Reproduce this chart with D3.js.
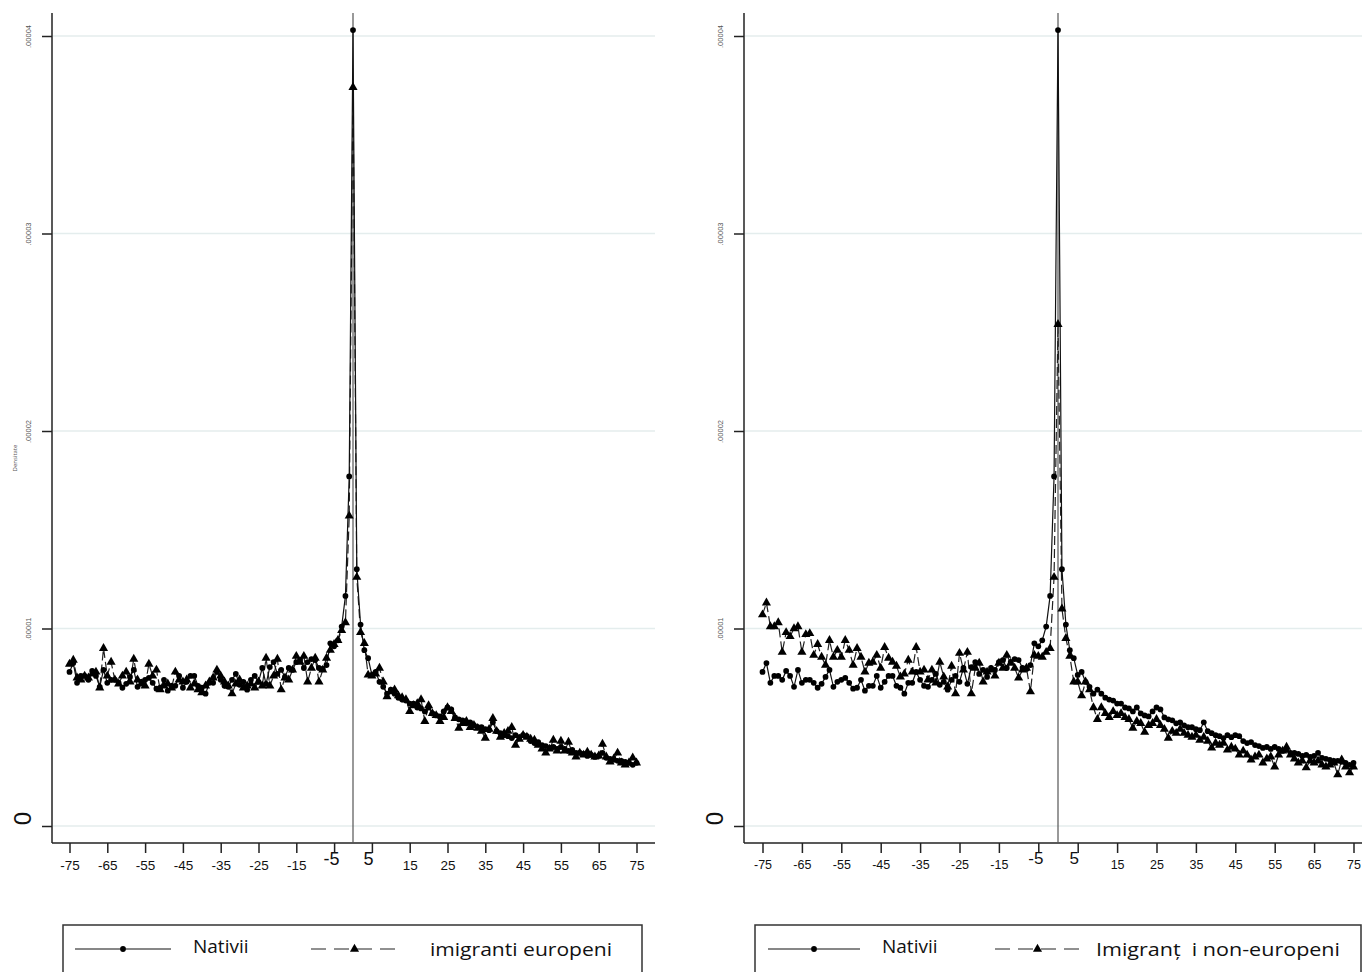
<!DOCTYPE html>
<html><head><meta charset="utf-8">
<script src="https://cdn.jsdelivr.net/npm/d3@7/dist/d3.min.js"></script>
<style>
html,body{margin:0;padding:0;background:#fff;}
svg{display:block;font-family:"Open Sans","Noto Sans",sans-serif;}
</style></head><body>
<svg id="chart" width="1364" height="972"></svg>
<script>
// x categories: distance (integer positions -75..75)
const positions = d3.range(-75, 76);
// values in units of 1e-6 (density)
const nativii = [
7.8, 8.25, 7.25, 7.6, 7.6, 7.4, 7.85, 7.6, 7.05, 7.9,
7.25, 7.4, 7.4, 7.25, 7.0, 7.2, 7.55, 7.9, 7.05, 7.3,
7.4, 7.5, 7.25, 6.95, 7.0, 7.4, 6.85, 7.1, 7.1, 7.6,
7.0, 7.3, 7.6, 7.6, 7.1, 7.0, 6.7, 7.25, 7.25, 7.8,
7.4, 7.1, 7.05, 7.4, 7.7, 7.15, 7.3, 6.9, 7.4, 7.6,
7.3, 8.0, 7.2, 8.05, 8.3, 7.7, 7.9, 7.55, 8.0, 7.9,
8.3, 8.4, 8.0, 8.3, 8.45, 8.4, 8.0, 7.95, 8.15, 9.25,
9.1, 9.4, 10.1, 11.65, 17.7, 40.3, 13.0, 10.2, 8.9, 8.5,
7.65, 7.8, 7.3, 7.05, 6.7, 6.9, 6.7, 6.5, 6.4, 6.35,
6.2, 6.2, 6.0, 5.95, 5.8, 6.0, 5.7, 5.6, 5.55, 5.8,
6.0, 5.9, 5.5, 5.4, 5.35, 5.2, 5.25, 5.1, 5.0, 5.0,
4.9, 4.85, 5.25, 4.8, 4.7, 4.6, 4.55, 4.45, 4.6, 4.5,
4.6, 4.55, 4.3, 4.2, 4.25, 4.1, 4.05, 3.95, 4.0, 3.9,
4.0, 3.9, 3.8, 3.85, 3.7, 3.7, 3.65, 3.55, 3.6, 3.5,
3.55, 3.7, 3.45, 3.4, 3.35, 3.3, 3.3, 3.25, 3.2, 3.1,
3.2];
const imigrantiEuropeni = [
8.2, 8.4, 7.5, 7.4, 7.6, 7.5, 7.7, 7.8, 7.0, 9.0,
7.6, 8.3, 7.4, 7.2, 7.6, 7.8, 7.3, 8.45, 7.4, 7.2,
7.1, 8.2, 7.6, 7.9, 6.9, 7.1, 7.2, 7.0, 7.8, 7.4,
7.3, 7.4, 7.0, 7.2, 6.9, 6.75, 7.1, 7.3, 7.5, 7.9,
7.6, 7.3, 7.1, 6.7, 7.2, 7.4, 7.0, 7.1, 7.2, 7.0,
7.3, 7.1, 8.5, 7.1, 7.6, 8.45, 6.9, 7.5, 7.4, 7.9,
8.6, 8.3, 8.6, 7.3, 8.0, 8.5, 7.3, 7.9, 8.5, 8.9,
9.2, 9.4, 9.9, 10.3, 15.7, 37.4, 12.6, 9.8, 9.25, 7.65,
7.6, 7.7, 8.0, 7.3, 6.55, 6.8, 6.9, 6.6, 6.5, 6.4,
5.8, 6.1, 6.2, 6.4, 5.3, 6.1, 5.7, 5.6, 5.3, 5.5,
6.0, 5.8, 5.45, 4.95, 5.2, 5.3, 5.0, 5.1, 4.95, 4.8,
4.45, 4.9, 5.45, 4.8, 4.5, 4.7, 4.8, 5.0, 4.1, 4.4,
4.6, 4.5, 4.4, 4.35, 4.1, 3.9, 3.7, 3.9, 4.35, 3.8,
4.3, 3.8, 4.25, 3.7, 3.5, 3.7, 3.6, 3.75, 3.6, 3.5,
3.55, 4.15, 3.5, 3.25, 3.4, 3.7, 3.2, 3.1, 3.2, 3.45,
3.2];
const imigrantiNonEuropeni = [
10.7, 11.3, 10.1, 10.1, 10.3, 8.8, 9.8, 9.6, 10.0, 10.1,
8.8, 9.7, 9.75, 8.65, 9.2, 8.55, 8.15, 9.4, 8.55, 8.9,
8.55, 9.4, 8.9, 8.15, 9.0, 8.55, 7.8, 8.25, 8.3, 8.65,
8.0, 9.05, 8.5, 8.3, 8.1, 7.55, 7.7, 8.4, 7.8, 9.05,
7.8, 7.9, 7.4, 7.9, 7.25, 8.3, 7.55, 7.05, 8.1, 6.7,
8.75, 7.9, 8.8, 6.7, 8.0, 8.25, 7.3, 7.8, 7.9, 7.6,
8.25, 8.0, 8.65, 8.25, 8.0, 7.5, 7.9, 8.0, 6.8, 8.65,
8.6, 8.55, 8.8, 9.0, 12.6, 25.4, 11.0, 9.5, 8.6, 7.3,
7.3, 6.6, 7.3, 6.9, 6.0, 5.4, 6.0, 5.7, 5.5, 5.8,
5.6, 5.7, 5.5, 5.4, 4.95, 5.3, 5.2, 4.75, 5.1, 5.2,
5.4, 5.1, 4.9, 4.45, 4.8, 4.7, 4.9, 4.7, 4.6, 4.5,
4.6, 4.35, 4.5, 4.3, 3.95, 4.2, 4.1, 4.2, 3.85, 4.0,
3.9, 3.6, 3.8, 3.6, 3.35, 3.5, 3.6, 3.2, 3.4, 3.5,
3.0, 3.6, 3.8, 4.0, 3.6, 3.4, 3.2, 3.3, 2.95, 3.3,
3.2, 3.3, 3.1, 3.0, 3.1, 3.2, 2.6, 3.35, 3.0, 2.7,
3.0];
const xTickValues = [-75,-65,-55,-45,-35,-25,-15,-5,5,15,25,35,45,55,65,75];
const yTickValues = [0, 10, 20, 30, 40];
const yTickLabels = ["0", ".00001", ".00002", ".00003", ".00004"];
const yTitle = "Densitate";
const legendNative = "Nativii";
const legendImmigrant = ["imigranti europeni", "Imigranț  i non-europeni"];

const svg = d3.select("#chart");

const panels = [
  {series: imigrantiEuropeni, label: legendImmigrant[0], axisX: 52, right: 655, xr: [69.5, 636.5],
   labX: 28, title: true, box: [63, 642], lineA: [75, 171], txt1: 193, dashA: [311, 398], txt2: 430, txt2W: 182, labFont: 13.5, bigFont: 18},
  {series: imigrantiNonEuropeni, label: legendImmigrant[1], axisX: 744, right: 1362, xr: [762.5, 1353.5],
   labX: 720, title: false, box: [755, 1361], lineA: [768, 860], txt1: 882, dashA: [995, 1080], txt2: 1096, txt2W: 244, labFont: 12.5, bigFont: 17}
];

const yTop = 13, yBase = 843;
const y = d3.scaleLinear().domain([0, 40]).range([826, 36]);
const circle = d3.symbol().type(d3.symbolCircle).size(26);
const tri = d3.symbol().type(d3.symbolTriangle).size(36);

panels.forEach(p => {
  const g = svg.append("g");
  const x = d3.scaleLinear().domain([-75, 75]).range(p.xr);

  // gridlines
  g.selectAll("line.grid").data(yTickValues).join("line").attr("class", "grid")
    .attr("x1", p.axisX + 1).attr("x2", p.right)
    .attr("y1", d => y(d)).attr("y2", d => y(d))
    .attr("stroke", "#e4eded").attr("stroke-width", 1.5);

  // y axis
  const ya = d3.axisLeft(y).tickValues(yTickValues).tickSize(10).tickFormat((d, i) => yTickLabels[i]);
  const yg = g.append("g").attr("transform", `translate(${p.axisX},0)`).call(ya);
  yg.select(".domain").remove();
  yg.selectAll(".tick line").attr("stroke", "#222").attr("stroke-width", 1.5);
  yg.selectAll(".tick text").attr("x", 0)
    .attr("text-anchor", "middle")
    .attr("fill", d => d === 0 ? "#111" : "#555")
    .style("font-size", d => d === 0 ? "24px" : "7.5px")
    .attr("dy", d => d === 0 ? "0.36em" : "0.35em")
    .attr("transform", d => d === 0 ? `translate(${p.labX - p.axisX - 6},-8) rotate(-90)` : `translate(${p.labX - p.axisX},0) rotate(-90)`);
  g.append("line").attr("x1", p.axisX).attr("x2", p.axisX).attr("y1", yTop).attr("y2", yBase)
    .attr("stroke", "#222").attr("stroke-width", 1.5);
  if (p.title) {
    g.append("text").attr("transform", `translate(17,${y(20) + 27}) rotate(-90)`)
      .attr("text-anchor", "middle").attr("fill", "#555").style("font-size", "6px").text(yTitle);
  }

  // x axis
  const xa = d3.axisBottom(x).tickValues(xTickValues).tickSize(10).tickFormat(d => String(d));
  const xg = g.append("g").attr("transform", `translate(0,${yBase})`).call(xa);
  xg.select(".domain").remove();
  xg.selectAll(".tick line").attr("stroke", "#222").attr("stroke-width", 1.5);
  xg.selectAll(".tick text").attr("fill", "#111")
    .style("font-size", d => Math.abs(d) === 5 ? p.bigFont + "px" : p.labFont + "px")
    .attr("y", d => Math.abs(d) === 5 ? 9 : 17)
    .attr("x", d => d === -5 ? -3 : (d === 5 ? -4 : 0))
    .attr("dy", "0.71em");
  g.append("line").attr("x1", p.axisX).attr("x2", p.right).attr("y1", yBase).attr("y2", yBase)
    .attr("stroke", "#222").attr("stroke-width", 1.5);

  // vertical reference line at 0
  g.append("line").attr("x1", x(0)).attr("x2", x(0)).attr("y1", yTop).attr("y2", yBase)
    .attr("stroke", "#555").attr("stroke-width", 1.2);

  const line = d3.line().x((d, i) => x(positions[i])).y(d => y(d));

  // immigrant series (dashed, triangles)
  g.append("path").datum(p.series).attr("d", line)
    .attr("fill", "none").attr("stroke", "#222").attr("stroke-width", 1.2)
    .attr("stroke-dasharray", "9,4");
  // native series (solid, circles)
  g.append("path").datum(nativii).attr("d", line)
    .attr("fill", "none").attr("stroke", "#111").attr("stroke-width", 1.2);

  g.selectAll("path.tri").data(p.series).join("path").attr("class", "tri")
    .attr("d", tri).attr("transform", (d, i) => `translate(${x(positions[i])},${y(d)})`)
    .attr("fill", "#000");
  g.selectAll("path.circ").data(nativii).join("path").attr("class", "circ")
    .attr("d", circle).attr("transform", (d, i) => `translate(${x(positions[i])},${y(d)})`)
    .attr("fill", "#000");

  // legend
  const lg = svg.append("g");
  lg.append("rect").attr("x", p.box[0]).attr("y", 925).attr("width", p.box[1] - p.box[0]).attr("height", 60)
    .attr("fill", "#fff").attr("stroke", "#333").attr("stroke-width", 1.5);
  const ly = 949;
  lg.append("line").attr("x1", p.lineA[0]).attr("x2", p.lineA[1]).attr("y1", ly).attr("y2", ly)
    .attr("stroke", "#111").attr("stroke-width", 1.1);
  lg.append("path").attr("d", circle).attr("transform", `translate(${(p.lineA[0] + p.lineA[1]) / 2},${ly})`).attr("fill", "#000");
  lg.append("text").attr("x", p.txt1).attr("y", 953).attr("fill", "#111").style("font-size", "19px").text(legendNative);
  lg.append("line").attr("x1", p.dashA[0]).attr("x2", p.dashA[1]).attr("y1", ly).attr("y2", ly)
    .attr("stroke", "#222").attr("stroke-width", 1.1).attr("stroke-dasharray", "15,8");
  lg.append("path").attr("d", tri).attr("transform", `translate(${(p.dashA[0] + p.dashA[1]) / 2},${ly})`).attr("fill", "#000");
  lg.append("text").attr("x", p.txt2).attr("y", 956).attr("fill", "#111").style("font-size", "19px")
    .style("white-space", "pre").attr("textLength", p.txt2W).attr("lengthAdjust", "spacingAndGlyphs")
    .text(p.label);
});
</script>
</body></html>
